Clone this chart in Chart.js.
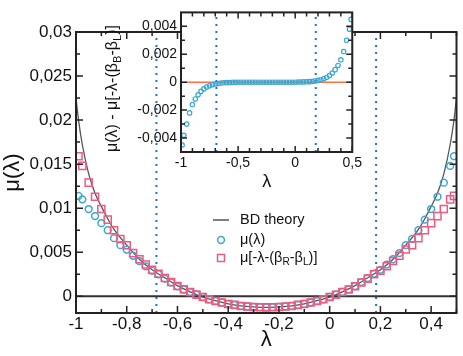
<!DOCTYPE html>
<html>
<head>
<meta charset="utf-8">
<script src="https://cdn.jsdelivr.net/npm/chart.js@4.4.0/dist/chart.umd.min.js"></script>
<style>
  html, body { margin: 0; padding: 0; background: #fff; }
  #wrap { position: relative; width: 463px; height: 356px; }
  #main { position: absolute; left: 0; top: 0; }
  #inset { position: absolute; left: 100px; top: 0; }
</style>
</head>
<body>
<div id="wrap">
  <canvas id="main" width="463" height="356"></canvas>
  <canvas id="inset" width="265" height="200"></canvas>
</div>
<script>
// --- data ---
const lambdaPts = [-0.99, -0.975, -0.95, -0.925, -0.9, -0.875, -0.85, -0.825, -0.8, -0.775,
  -0.75, -0.725, -0.7, -0.675, -0.65, -0.625, -0.6, -0.575, -0.55, -0.525,
  -0.5, -0.475, -0.45, -0.425, -0.4, -0.375, -0.35, -0.325, -0.3, -0.275,
  -0.25, -0.225, -0.2, -0.175, -0.15, -0.125, -0.1, -0.075, -0.05, -0.025,
  0, 0.025, 0.05, 0.075, 0.1, 0.125, 0.15, 0.175, 0.2, 0.225,
  0.25, 0.275, 0.3, 0.325, 0.35, 0.375, 0.4, 0.425, 0.45, 0.475, 0.49];

// μ(λ)  (circles)
const muVals = [0.0114, 0.0110, 0.0099, 0.0091, 0.0083, 0.0075, 0.0066, 0.0058, 0.0053, 0.0046,
  0.0040, 0.0034, 0.0029, 0.0025, 0.0020, 0.00156, 0.00113, 0.00077, 0.00048, 0.00018,
  -0.00008, -0.00034, -0.00053, -0.00071, -0.00087, -0.00098, -0.0011, -0.00116, -0.00121, -0.00124,
  -0.00126, -0.00124, -0.00121, -0.00116, -0.0011, -0.00098, -0.00087, -0.00071, -0.00053, -0.00034,
  -0.00007, 0.00019, 0.00049, 0.00079, 0.00116, 0.00161, 0.00207, 0.00256, 0.0030, 0.0036,
  0.0042, 0.0049, 0.0058, 0.0065, 0.0075, 0.0087, 0.0099, 0.0113, 0.0129, 0.0148, 0.0159];

// μ[-λ-(βR-βL)]  (squares)
const muReflVals = [0.0159, 0.0148, 0.0129, 0.0113, 0.0099, 0.0087, 0.0075, 0.0065, 0.0058, 0.0049,
  0.0042, 0.0036, 0.0030, 0.00256, 0.00207, 0.00161, 0.00116, 0.00079, 0.00049, 0.00019,
  -0.00008, -0.00034, -0.00053, -0.00071, -0.00087, -0.00098, -0.0011, -0.00116, -0.00121, -0.00124,
  -0.00126, -0.00124, -0.00121, -0.00116, -0.0011, -0.00098, -0.00087, -0.00071, -0.00053, -0.00034,
  -0.00008, 0.00018, 0.00048, 0.00077, 0.00113, 0.00156, 0.0020, 0.0025, 0.0029, 0.0034,
  0.0040, 0.0046, 0.0053, 0.0058, 0.0066, 0.0075, 0.0083, 0.0091, 0.0099, 0.0110, 0.0114];

// inset: μ(λ) - μ[-λ-(βR-βL)]
const diffVals = [-0.0045, -0.0038, -0.0030, -0.0022, -0.0016, -0.0012, -0.0009, -0.00066, -0.00048, -0.00034,
  -0.00025, -0.00018, -0.00013, -0.00009, -0.00006, -0.00004, -0.00003, -0.00002, -0.00001, -0.00001,
  0, 0, 0, 0, 0, 0, 0, 0, 0, 0,
  0, 0, 0, 0, 0, 0, 0, 0, 0, 0,
  0, 0.00001, 0.00001, 0.00002, 0.00003, 0.00004, 0.00006, 0.00009, 0.00013, 0.00018,
  0.00025, 0.00034, 0.00048, 0.00066, 0.0009, 0.0012, 0.0016, 0.0022, 0.0030, 0.0038, 0.0045];

// BD theory curve
const bdLambda = [-1, -0.99, -0.975, -0.95, -0.925, -0.9, -0.875, -0.85, -0.8, -0.75, -0.7, -0.65, -0.6,
  -0.55, -0.5, -0.45, -0.4, -0.35, -0.3, -0.25, -0.2, -0.15, -0.1, -0.05, 0, 0.05, 0.1,
  0.15, 0.2, 0.25, 0.3, 0.35, 0.375, 0.4, 0.425, 0.45, 0.475, 0.49, 0.5];
const bdMu = [0.0225, 0.0200, 0.0172, 0.0139, 0.0117, 0.0102, 0.0088, 0.0076, 0.0058, 0.0042, 0.0030, 0.0021, 0.0012,
  0.0005, -0.0001, -0.0005, -0.00086, -0.00108, -0.0012, -0.00126, -0.0012, -0.00108, -0.00086, -0.0005, -0.0001, 0.0005, 0.0012,
  0.0021, 0.0030, 0.0042, 0.0058, 0.0076, 0.0088, 0.0102, 0.0117, 0.0139, 0.0172, 0.0200, 0.0225];

// vertical dotted markers
const markMain = [-0.683, 0.183];
const markInset = [-0.69, 0.18];

// ticks
const mainXMajor = [-1, -0.8, -0.6, -0.4, -0.2, 0, 0.2, 0.4];
const mainXMinor = [-0.9, -0.7, -0.5, -0.3, -0.1, 0.1, 0.3, 0.5];
const mainYMajor = [0, 0.005, 0.01, 0.015, 0.02, 0.025, 0.03];
const mainYMinor = [0.0025, 0.0075, 0.0125, 0.0175, 0.0225, 0.0275];
const insetXMajor = [-1, -0.5, 0, 0.5];
const insetXMinor = [-0.9, -0.8, -0.7, -0.6, -0.4, -0.3, -0.2, -0.1, 0.1, 0.2, 0.3, 0.4];
const insetYMajor = [-0.004, -0.002, 0, 0.002, 0.004];
const insetYMinor = [-0.003, -0.001, 0.001, 0.003];

const BLUE = '#3aa8d2';
const PINK = '#ef5a80';
const DOT = '#1f6fd8';
const FONT = "'Liberation Sans', Arial, sans-serif";

Chart.defaults.font.family = FONT;
Chart.defaults.color = '#111';

// --- helpers ---
const fmt = v => (Math.round(v * 100000) / 100000).toString().replace('.', ',');
const inList = (list, v) => list.some(m => Math.abs(m - v) < 1e-9);
const pts = (xs, ys) => xs.map((x, i) => ({ x: x, y: ys[i] }));

const setTicks = (major, minor) => scale => {
  scale.ticks = major.concat(minor).sort((a, b) => a - b).map(v => ({ value: v }));
};

// frame + inward ticks on four sides
const frameTicks = {
  id: 'frameTicks',
  beforeDraw(chart, args, o) {
    if (!o.fill) return;
    const a = chart.chartArea, ctx = chart.ctx;
    ctx.save();
    ctx.fillStyle = o.fill;
    ctx.fillRect(a.left, a.top, a.right - a.left, a.bottom - a.top);
    ctx.restore();
  },
  afterDraw(chart, args, o) {
    if (!o.xMajor) return;
    const { ctx, chartArea: a, scales: { x, y } } = chart;
    ctx.save();
    ctx.strokeStyle = '#222';
    ctx.lineWidth = 1.5;
    ctx.beginPath();
    x.ticks.forEach(t => {
      const px = x.getPixelForValue(t.value);
      const len = inList(o.xMajor, t.value) ? o.major : o.minor;
      ctx.moveTo(px, a.bottom); ctx.lineTo(px, a.bottom - len);
      ctx.moveTo(px, a.top); ctx.lineTo(px, a.top + len);
    });
    y.ticks.forEach(t => {
      const py = y.getPixelForValue(t.value);
      const len = inList(o.yMajor, t.value) ? o.major : o.minor;
      ctx.moveTo(a.left, py); ctx.lineTo(a.left + len, py);
      ctx.moveTo(a.right, py); ctx.lineTo(a.right - len, py);
    });
    ctx.stroke();
    ctx.lineWidth = 2;
    ctx.strokeRect(a.left, a.top, a.right - a.left, a.bottom - a.top);
    ctx.restore();
  }
};
Chart.register(frameTicks);

// text with subscripts, drawn left to right from (x, y)
function drawRich(ctx, parts, x, y, size) {
  parts.forEach(p => {
    const sub = p[1];
    ctx.font = (sub ? size * 0.7 : size) + 'px ' + FONT;
    ctx.fillText(p[0], x, sub ? y + size * 0.28 : y);
    x += ctx.measureText(p[0]).width;
  });
}

const legendPlugin = {
  id: 'customLegend',
  afterDraw(chart) {
    const ctx = chart.ctx;
    ctx.save();
    ctx.fillStyle = '#111';
    ctx.textBaseline = 'middle';
    ctx.textAlign = 'left';
    // BD theory
    ctx.strokeStyle = '#555';
    ctx.lineWidth = 1.5;
    ctx.beginPath(); ctx.moveTo(213, 220); ctx.lineTo(229, 220); ctx.stroke();
    drawRich(ctx, [['BD theory']], 240, 220, 14.5);
    // μ(λ)
    ctx.strokeStyle = BLUE;
    ctx.beginPath(); ctx.arc(221, 240, 3.4, 0, Math.PI * 2); ctx.stroke();
    drawRich(ctx, [['μ(λ)']], 240, 240, 14.5);
    // μ[-λ-(βR-βL)]
    ctx.strokeStyle = PINK;
    ctx.strokeRect(217.5, 254.5, 7, 7);
    drawRich(ctx, [['μ[-λ-(β'], ['R', 1], ['-β'], ['L', 1], [')]']], 240, 258, 14.5);
    ctx.restore();
  }
};

const insetTitlePlugin = {
  id: 'insetTitle',
  afterDraw(chart) {
    const ctx = chart.ctx;
    ctx.save();
    ctx.translate(13, 152);
    ctx.rotate(-Math.PI / 2);
    ctx.fillStyle = '#111';
    ctx.textBaseline = 'middle';
    ctx.textAlign = 'left';
    drawRich(ctx, [['μ(λ) - μ[-λ-(β'], ['B', 1], ['-β'], ['L', 1], [')]']], 0, 0, 16);
    ctx.restore();
  }
};

const vline = (xv, y0, y1) => ({
  data: [{ x: xv, y: y0 }, { x: xv, y: y1 }],
  showLine: true, borderColor: DOT, borderWidth: 2, borderDash: [2, 5],
  pointRadius: 0, order: 5
});

// --- main chart ---
new Chart(document.getElementById('main'), {
  type: 'scatter',
  data: {
    datasets: [
      { data: pts(lambdaPts, muReflVals), pointStyle: 'rect', pointRadius: 5,
        borderColor: PINK, backgroundColor: 'transparent', pointBorderWidth: 1.5, order: 1 },
      { data: pts(lambdaPts, muVals), pointStyle: 'circle', pointRadius: 3.4,
        borderColor: BLUE, backgroundColor: 'transparent', pointBorderWidth: 1.5, order: 2 },
      { data: pts(bdLambda, bdMu), showLine: true, pointRadius: 0, borderColor: '#555',
        borderWidth: 1.3, cubicInterpolationMode: 'monotone', order: 3 },
      { data: [{ x: -1, y: 0 }, { x: 0.5, y: 0 }], showLine: true, pointRadius: 0,
        borderColor: '#333', borderWidth: 2, order: 4 },
      vline(markMain[0], -0.0019, 0.03),
      vline(markMain[1], -0.0019, 0.03)
    ]
  },
  options: {
    responsive: false,
    animation: false,
    events: [],
    layout: { padding: { top: 32, right: 2, left: 0, bottom: 0 } },
    plugins: {
      legend: { display: false },
      tooltip: { enabled: false },
      frameTicks: { xMajor: mainXMajor, yMajor: mainYMajor, major: 7, minor: 4 }
    },
    scales: {
      x: {
        type: 'linear', min: -1, max: 0.5,
        afterBuildTicks: setTicks(mainXMajor, mainXMinor),
        afterFit: s => { s.height = 43; },
        grid: { display: false, drawTicks: false },
        border: { display: false },
        ticks: { autoSkip: false, maxRotation: 0, padding: 1, font: { size: 17 },
          callback: v => inList(mainXMajor, v) ? fmt(v) : '' },
        title: { display: true, text: 'λ', font: { size: 22 }, padding: { top: 0, bottom: 3 } }
      },
      y: {
        type: 'linear', min: -0.0019, max: 0.03,
        afterBuildTicks: setTicks(mainYMajor, mainYMinor),
        afterFit: s => { s.width = 76; },
        grid: { display: false, drawTicks: false },
        border: { display: false },
        ticks: { autoSkip: false, padding: 4, font: { size: 17 },
          callback: v => inList(mainYMajor, v) ? fmt(v) : '' },
        title: { display: true, text: 'μ(λ)', font: { size: 22 }, padding: { top: 0, bottom: 0 } }
      }
    }
  },
  plugins: [legendPlugin]
});

// --- inset chart ---
new Chart(document.getElementById('inset'), {
  type: 'scatter',
  data: {
    datasets: [
      { data: pts(lambdaPts, diffVals), pointStyle: 'circle', pointRadius: 2.2,
        borderColor: BLUE, backgroundColor: 'transparent', pointBorderWidth: 1.2, order: 1 },
      { data: [{ x: -1, y: 0 }, { x: 0.5, y: 0 }], showLine: true, pointRadius: 0,
        borderColor: '#ff7043', borderWidth: 1.5, order: 3 },
      vline(markInset[0], -0.005, 0.005),
      vline(markInset[1], -0.005, 0.005)
    ]
  },
  options: {
    responsive: false,
    animation: false,
    events: [],
    layout: { padding: { top: 12, right: 4, left: 0, bottom: 0 } },
    plugins: {
      legend: { display: false },
      tooltip: { enabled: false },
      frameTicks: { fill: '#fff', xMajor: insetXMajor, yMajor: insetYMajor, major: 6, minor: 4 }
    },
    scales: {
      x: {
        type: 'linear', min: -1, max: 0.5,
        afterBuildTicks: setTicks(insetXMajor, insetXMinor),
        afterFit: s => { s.height = 48; },
        grid: { display: false, drawTicks: false },
        border: { display: false },
        ticks: { autoSkip: false, maxRotation: 0, padding: 3, font: { size: 14 },
          callback: v => inList(insetXMajor, v) ? fmt(v) : '' },
        title: { display: true, text: 'λ', font: { size: 18 }, padding: { top: 0, bottom: 7 } }
      },
      y: {
        type: 'linear', min: -0.005, max: 0.005,
        afterBuildTicks: setTicks(insetYMajor, insetYMinor),
        afterFit: s => { s.width = 81; },
        grid: { display: false, drawTicks: false },
        border: { display: false },
        ticks: { autoSkip: false, padding: 4, font: { size: 14 },
          callback: v => inList(insetYMajor, v) ? fmt(v) : '' }
      }
    }
  },
  plugins: [insetTitlePlugin]
});
</script>
</body>
</html>
